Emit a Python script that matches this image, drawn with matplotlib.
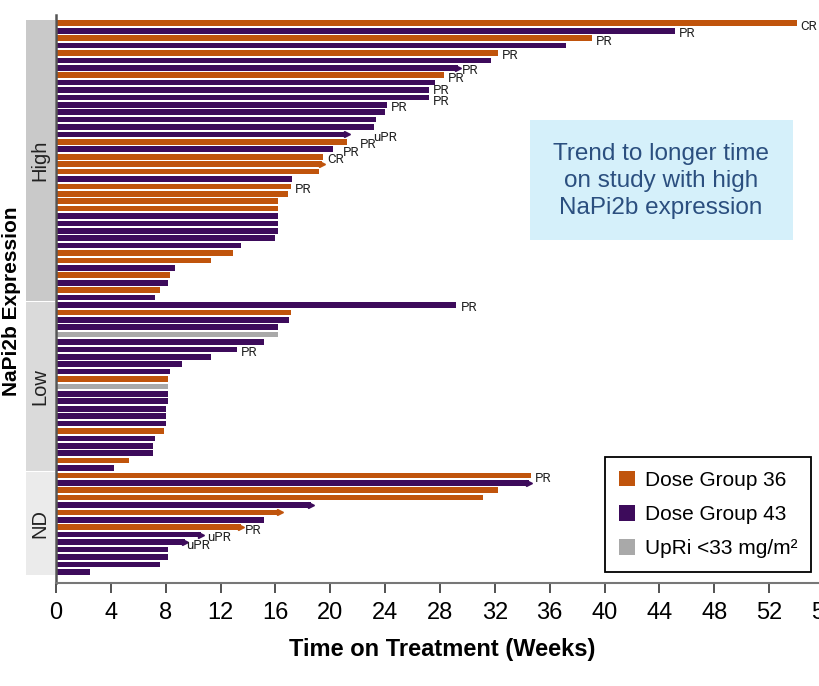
import matplotlib
matplotlib.use("Agg")
import matplotlib.pyplot as plt
from matplotlib import font_manager
from matplotlib.patches import Patch, Rectangle
from matplotlib.transforms import blended_transform_factory

# --- data (top to bottom within each expression group) ---
sections = ['High', 'Low', 'ND']

high_weeks = [54.0, 45.1, 39.1, 37.2, 32.2, 31.7, 29.3, 28.3, 27.6, 27.2, 27.2, 24.1, 24.0,
              23.3, 23.2, 21.2, 21.2, 20.2, 19.5, 19.4, 19.2, 17.2, 17.1, 16.9, 16.2, 16.2,
              16.2, 16.2, 16.2, 16.0, 13.5, 12.9, 11.3, 8.7, 8.3, 8.2, 7.6, 7.2]
high_group = ['36', '43', '36', '43', '36', '43', '43', '36', '43', '43', '43', '43', '43',
              '43', '43', '43', '36', '43', '36', '36', '36', '43', '36', '36', '36', '36',
              '43', '43', '43', '43', '43', '36', '36', '43', '36', '43', '36', '43']
high_resp = {0: 'CR', 1: 'PR', 2: 'PR', 4: 'PR', 6: 'PR', 7: 'PR', 9: 'PR', 10: 'PR',
             11: 'PR', 15: 'uPR', 16: 'PR', 17: 'PR', 18: 'CR', 22: 'PR'}
high_ongoing = [6, 15, 19]

low_weeks = [29.2, 17.1, 17.0, 16.2, 16.2, 15.2, 13.2, 11.3, 9.2, 8.3, 8.2, 8.2, 8.2,
             8.2, 8.0, 8.0, 8.0, 7.85, 7.2, 7.1, 7.05, 5.3, 4.2]
low_group = ['43', '36', '43', '43', 'UpRi', '43', '43', '43', '43', '43', '36', 'UpRi', '43',
             '43', '43', '43', '43', '36', '43', '43', '43', '36', '43']
low_resp = {0: 'PR', 6: 'PR'}
low_ongoing = []

nd_weeks = [34.6, 34.5, 32.2, 31.1, 18.6, 16.3, 15.2, 13.5, 10.6, 9.4, 8.2, 8.2, 7.6, 2.5]
nd_group = ['36', '43', '36', '36', '43', '36', '43', '36', '43', '43', '43', '43', '43', '43']
nd_resp = {0: 'PR', 7: 'PR', 8: 'uPR', 9: 'uPR'}
nd_ongoing = [1, 4, 5, 7, 8, 9]

x_ticks = list(range(0, 57, 4))
legend_labels = ['Dose Group 36', 'Dose Group 43', 'UpRi <33 mg/m²']
note_text = 'Trend to longer time\non study with high\nNaPi2b expression'

# --- styles ---
colors = {'36': '#c0540c', '43': '#3d0b5b', 'UpRi': '#a9a9a9'}
band_colors = {'High': '#c9c9c9', 'Low': '#dadada', 'ND': '#ebebeb'}
# extra shift (pixels) for crowded response labels
label_shift = {('High', 15): 22, ('High', 16): 9, ('High', 17): 6, ('High', 18): 0,
               ('ND', 8): 2, ('ND', 9): -3}
label_lift = {('High', 9): 3, ('High', 10): -1}

names = {f.name for f in font_manager.fontManager.ttflist}
narrow = 'Liberation Sans Narrow' if 'Liberation Sans Narrow' in names else 'Liberation Sans'
plain = 'Liberation Sans'

fig = plt.figure(figsize=(8.2, 6.86), dpi=100)
ax = fig.add_axes([56 / 820, 1 - 583 / 686, 768 / 820, 568 / 686])

all_weeks = high_weeks + low_weeks + nd_weeks
all_group = high_group + low_group + nd_group
sec_data = [('High', high_weeks, high_resp, high_ongoing),
            ('Low', low_weeks, low_resp, low_ongoing),
            ('ND', nd_weeks, nd_resp, nd_ongoing)]

ypos = list(range(len(all_weeks)))
ax.barh(ypos, all_weeks, height=0.76, color=[colors[g] for g in all_group], zorder=2)

band_tf = blended_transform_factory(ax.transAxes, ax.transData)
start = 0
for name, weeks, resp, ongoing in sec_data:
    n = len(weeks)
    y0, y1 = start - 0.42, start + n - 1 + 0.42
    ax.add_patch(Rectangle((-30 / 768, y0), 29 / 768, y1 - y0, transform=band_tf,
                           facecolor=band_colors[name], edgecolor='none', clip_on=False))
    ax.text(-16 / 768, (y0 + y1) / 2, name, transform=band_tf, rotation=90,
            ha='center', va='center', fontsize=14.5, family=plain, color='#222222')
    for i in ongoing:
        ax.plot(weeks[i], start + i, marker='>', markersize=4.5,
                color=colors[all_group[start + i]], zorder=3, clip_on=False)
    for i, lab in resp.items():
        dx = 4 + label_shift.get((name, i), 0)
        dy = -3 + label_lift.get((name, i), 0)
        ax.annotate(lab, xy=(weeks[i], start + i), xytext=(dx, dy),
                    textcoords='offset pixels', ha='left', va='center',
                    fontsize=9.5, family='Roboto', color='#222222')
    start += n

n_rows = len(all_weeks)
ax.set_ylim(n_rows - 1 + 1.52, -1.12)
ax.set_xlim(0, 56)
ax.set_yticks([])
ax.set_xticks(x_ticks)
ax.set_xticklabels([str(t) for t in x_ticks], fontsize=17, family=narrow)
ax.tick_params(axis='x', direction='out', length=7, width=1.3, color='#444444', pad=7)

for side in ['top', 'right']:
    ax.spines[side].set_visible(False)
ax.spines['left'].set_color('#555555')
ax.spines['left'].set_linewidth(1.8)
ax.spines['bottom'].set_color('#777777')
ax.spines['bottom'].set_linewidth(1.5)

ax.set_xlabel('Time on Treatment (Weeks)', fontsize=17, fontweight='bold', family=narrow)
ax.xaxis.set_label_coords(386 / 768, -0.097)
fig.text(12 / 820, 1 - 301 / 686, 'NaPi2b Expression', rotation=90, ha='center',
         va='center', fontsize=15, fontweight='bold', family=narrow)

# note box
fig.patches.append(Rectangle((530 / 820, 1 - 240 / 686), 263 / 820, 120 / 686,
                             transform=fig.transFigure, facecolor='#d5f0fa',
                             edgecolor='none', zorder=5))
fig.text(661 / 820, 1 - 181 / 686, note_text, ha='center', va='center', fontsize=17.5,
         family=narrow, color='#2b4f7f', linespacing=1.3, zorder=6)

handles = [Patch(facecolor=colors[k], edgecolor='none') for k in ['36', '43', 'UpRi']]
leg = ax.legend(handles, legend_labels, loc='upper left',
                bbox_to_anchor=(605 / 820, 1 - 457 / 686), bbox_transform=fig.transFigure,
                borderaxespad=0, fancybox=False, framealpha=1, edgecolor='black',
                prop={'family': plain, 'size': 15}, handlelength=0.8, handleheight=0.8,
                handletextpad=0.45, labelspacing=0.72, borderpad=0.65)
leg.get_frame().set_linewidth(1.3)

fig.savefig('out.png', dpi=100)
